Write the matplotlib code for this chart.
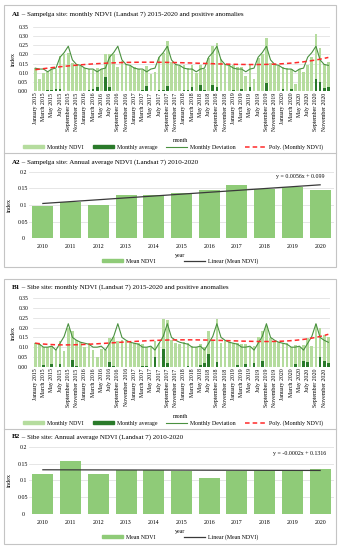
import numpy as np
import matplotlib
matplotlib.use('Agg')
import matplotlib.pyplot as plt
from matplotlib.patches import Rectangle, Patch
from matplotlib.lines import Line2D

plt.rcParams['font.family'] = ['Liberation Serif', 'DejaVu Serif']

W, H = 341, 550

# ---- data ----
months = ['January', 'February', 'March', 'April', 'May', 'June', 'July',
          'August', 'September', 'October', 'November', 'December']
month_years = [2015, 2016, 2017, 2018, 2019, 2020]
month_labels = ['%s %d' % (m, y) for y in month_years for m in months]

sampelga_ndvi = [
    0.125, 0.065, 0.100, 0.105, 0.120, 0.120, 0.190, 0.205, 0.210, 0.155, 0.140, 0.135,
    0.125, 0.120, 0.115, 0.125, 0.120, 0.200, 0.200, 0.200, 0.130, 0.165, 0.150, 0.135,
    0.130, 0.120, 0.115, 0.135, 0.095, 0.105, 0.185, 0.210, 0.275, 0.160, 0.140, 0.135,
    0.140, 0.125, 0.140, 0.100, 0.140, 0.120, 0.180, 0.245, 0.265, 0.175, 0.145, 0.135,
    0.140, 0.130, 0.130, 0.080, 0.140, 0.065, 0.180, 0.200, 0.290, 0.155, 0.150, 0.135,
    0.130, 0.125, 0.120, 0.040, 0.120, 0.105, 0.140, 0.185, 0.310, 0.235, 0.150, 0.160,
]
sampelga_anomaly = [
    0.000, 0.000, 0.000, 0.003, 0.005, 0.010, 0.012, 0.000, 0.000, 0.000, 0.000, 0.000,
    0.000, 0.003, 0.010, 0.020, 0.000, 0.075, 0.020, 0.000, 0.000, 0.000, 0.000, 0.000,
    0.000, 0.000, 0.005, 0.030, 0.000, 0.000, 0.005, 0.003, 0.027, 0.000, 0.000, 0.000,
    0.003, 0.005, 0.020, 0.000, 0.033, 0.003, 0.000, 0.035, 0.020, 0.000, 0.000, 0.000,
    0.003, 0.000, 0.012, 0.000, 0.020, 0.000, 0.000, 0.000, 0.045, 0.000, 0.000, 0.000,
    0.012, 0.000, 0.012, 0.000, 0.000, 0.000, 0.000, 0.000, 0.065, 0.050, 0.018, 0.020,
]
sampelga_monthly_avg = [0.125, 0.120, 0.120, 0.105, 0.120, 0.125,
                        0.185, 0.210, 0.245, 0.170, 0.145, 0.140]

sibe_ndvi = [
    0.120, 0.115, 0.100, 0.100, 0.105, 0.085, 0.130, 0.080, 0.200, 0.185, 0.135, 0.125,
    0.100, 0.120, 0.085, 0.050, 0.090, 0.085, 0.145, 0.150, 0.130, 0.135, 0.130, 0.120,
    0.120, 0.120, 0.115, 0.100, 0.100, 0.130, 0.120, 0.245, 0.240, 0.135, 0.120, 0.115,
    0.125, 0.120, 0.105, 0.100, 0.115, 0.100, 0.185, 0.130, 0.245, 0.120, 0.135, 0.125,
    0.120, 0.120, 0.115, 0.115, 0.100, 0.105, 0.150, 0.185, 0.210, 0.145, 0.130, 0.125,
    0.120, 0.120, 0.100, 0.110, 0.100, 0.110, 0.145, 0.105, 0.220, 0.200, 0.160, 0.150,
]
sibe_anomaly = [
    0.000, 0.000, 0.010, 0.000, 0.012, 0.000, 0.012, 0.000, 0.000, 0.033, 0.005, 0.000,
    0.000, 0.000, 0.000, 0.000, 0.000, 0.000, 0.025, 0.005, 0.000, 0.000, 0.000, 0.000,
    0.000, 0.000, 0.005, 0.005, 0.000, 0.048, 0.000, 0.090, 0.020, 0.000, 0.000, 0.000,
    0.000, 0.004, 0.000, 0.000, 0.010, 0.018, 0.063, 0.000, 0.022, 0.000, 0.000, 0.000,
    0.000, 0.008, 0.000, 0.015, 0.000, 0.020, 0.000, 0.030, 0.000, 0.000, 0.000, 0.000,
    0.000, 0.000, 0.000, 0.012, 0.000, 0.028, 0.025, 0.000, 0.000, 0.048, 0.027, 0.020,
]
sibe_monthly_avg = [0.120, 0.115, 0.100, 0.100, 0.105, 0.085,
                    0.120, 0.155, 0.220, 0.150, 0.135, 0.125]

years = ['2010', '2011', '2012', '2013', '2014', '2015',
         '2016', '2017', '2018', '2019', '2020']
sampelga_annual = [0.097, 0.109, 0.099, 0.131, 0.131, 0.137,
                   0.145, 0.160, 0.149, 0.153, 0.146]
sibe_annual = [0.118, 0.158, 0.118, 0.131, 0.131, 0.128,
               0.108, 0.128, 0.132, 0.130, 0.135]
sampelga_linear = (0.0056, 0.099)
sibe_linear = (-0.0002, 0.1316)

LIGHT = '#b5dc9e'
DARK = '#2a7a2a'
LINE = '#4a9140'
RED = '#ff2a2a'
ANNUAL = '#8fcb78'
GRID = '#dcdcdc'
FRAME = '#c4c4c4'
FS = 4.2


def px_axes(fig, left, top, right, bottom):
    return fig.add_axes([left / W, 1 - bottom / H, (right - left) / W, (bottom - top) / H])


def fy(y):
    return 1 - y / H


def title(fig, x, y, tag, rest):
    renderer = fig.canvas.get_renderer()
    t = fig.text(x / W, fy(y), tag, fontsize=5, weight='bold', va='center')
    bb = t.get_window_extent(renderer=renderer)
    fig.text(bb.x1 / W, fy(y), ' \u2013 ' + rest, fontsize=5, va='center')


def clean(ax):
    for s in ax.spines.values():
        s.set_visible(False)
    ax.tick_params(length=0)
    ax.grid(axis='y', color=GRID, lw=0.5)
    ax.set_axisbelow(True)


def monthly_chart(fig, top, bottom, ndvi, anomaly, avg, deg):
    ax = px_axes(fig, 33.2, top, 330.4, bottom)
    x = np.arange(len(ndvi))
    ax.bar(x, ndvi, width=0.65, color=LIGHT, zorder=2)
    ax.bar(x, anomaly, width=0.65, color=DARK, zorder=3)
    ax.plot(x, np.tile(avg, len(month_years)), color=LINE, lw=0.8, zorder=4)
    coef = np.polyfit(x, ndvi, deg)
    ax.plot(x, np.polyval(coef, x), color=RED, lw=1.1, ls=(0, (3, 2)), zorder=5)
    ax.set_xlim(-0.5, len(ndvi) - 0.5)
    ax.set_ylim(0, 0.35)
    yt = np.arange(0, 0.351, 0.05)
    ax.set_yticks(yt)
    ax.set_yticklabels(['%.2f' % v for v in yt], fontsize=4)
    ax.set_xticks(x[::2])
    ax.set_xticklabels(month_labels[::2], rotation=90, fontsize=FS)
    clean(ax)
    ax.tick_params(axis='x', pad=1.2)
    ax.tick_params(axis='y', pad=3.6)
    ax.set_ylabel('index', fontsize=4.5, labelpad=2)
    return ax


def annual_chart(fig, top, bottom, values, linear, eq_text, eq_y):
    ax = px_axes(fig, 29, top, 334, bottom)
    x = np.arange(len(values))
    ax.bar(x, values, width=0.76, color=ANNUAL, zorder=2)
    slope, icpt = linear
    ax.plot(x, slope * (x + 1) + icpt, color='#3a3a3a', lw=0.9, zorder=3)
    ax.set_xlim(-0.5, len(values) - 0.5)
    ax.set_ylim(0, 0.2)
    ax.set_yticks([0, 0.05, 0.1, 0.15, 0.2])
    ax.set_yticklabels(['0', '0.05', '0.1', '0.15', '0.2'], fontsize=FS)
    for lab in ax.get_yticklabels():
        lab.set_ha('center')
    ax.set_xticks(x)
    ax.set_xticklabels(years, fontsize=FS)
    clean(ax)
    ax.tick_params(axis='x', pad=4.2)
    ax.tick_params(axis='y', pad=4.3)
    ax.set_ylabel('index', fontsize=4.5, labelpad=4)
    fig.text(300 / W, fy(eq_y), eq_text, fontsize=FS, ha='center', va='center')
    return ax


def monthly_legend(fig, y):
    handles = [Patch(color=LIGHT), Patch(color=DARK),
               Line2D([], [], color=LINE, lw=0.8),
               Line2D([], [], color=RED, lw=1.1, ls=(0, (3, 2)))]
    labels = ['Monthly NDVI', 'Monthly average', 'Monthly Deviation', 'Poly. (Monthly NDVI)']
    fig.legend(handles, labels, loc='center', bbox_to_anchor=(173 / W, fy(y)), ncol=4,
               frameon=False, fontsize=FS, handlelength=3.6, handleheight=0.6,
               columnspacing=1.6, handletextpad=0.5, borderpad=0)


def annual_legend(fig, y):
    handles = [Patch(color=ANNUAL), Line2D([], [], color='#3a3a3a', lw=0.9)]
    labels = ['Mean NDVI', 'Linear (Mean NDVI)']
    fig.legend(handles, labels, loc='center', bbox_to_anchor=(180 / W, fy(y)), ncol=2,
               frameon=False, fontsize=FS, handlelength=3.6, handleheight=0.6,
               columnspacing=5.0, handletextpad=0.5, borderpad=0)


fig = plt.figure(figsize=(W / 100, H / 100), dpi=100)

# outer frames
for (t, b, sep) in [(5, 267, 153), (279, 544, 429)]:
    fig.patches.append(Rectangle((3.5 / W, fy(b)), 332.5 / W, (b - t) / H, transform=fig.transFigure,
                                 fill=False, edgecolor=FRAME, lw=0.8))
    fig.add_artist(Line2D([3.5 / W, 336 / W], [fy(sep), fy(sep)], color=FRAME, lw=0.8))

# A1
title(fig, 12, 14, 'A1', 'Sampelga site: monthly NDVI (Landsat 7) 2015-2020 and positive anomalies')
monthly_chart(fig, 27, 91, sampelga_ndvi, sampelga_anomaly, sampelga_monthly_avg, 4)
fig.text(180 / W, fy(140), 'month', fontsize=FS, ha='center', va='center')
monthly_legend(fig, 147)

# A2
title(fig, 12, 162, 'A2', 'Sampelga site: Annual average NDVI (Landsat 7) 2010-2020')
annual_chart(fig, 171.7, 238.3, sampelga_annual, sampelga_linear, 'y = 0.0056x + 0.099', 176.7)
fig.text(180 / W, fy(255.5), 'year', fontsize=FS, ha='center', va='center')
annual_legend(fig, 261)

# B1
title(fig, 12, 287.3, 'B1', 'Sibe site: monthly NDVI (Landsat 7) 2015-2020 and positive anomalies')
monthly_chart(fig, 298.3, 366.7, sibe_ndvi, sibe_anomaly, sibe_monthly_avg, 4)
fig.text(180 / W, fy(416), 'month', fontsize=FS, ha='center', va='center')
monthly_legend(fig, 423)

# B2
title(fig, 12, 436.7, 'B2', 'Sibe site: Annual average NDVI (Landsat 7) 2010-2020')
annual_chart(fig, 446.7, 514, sibe_annual, sibe_linear, 'y = -0.0002x + 0.1316', 453.3)
fig.text(180 / W, fy(531.5), 'year', fontsize=FS, ha='center', va='center')
annual_legend(fig, 537)

fig.savefig('out.png', dpi=100, facecolor='white')
